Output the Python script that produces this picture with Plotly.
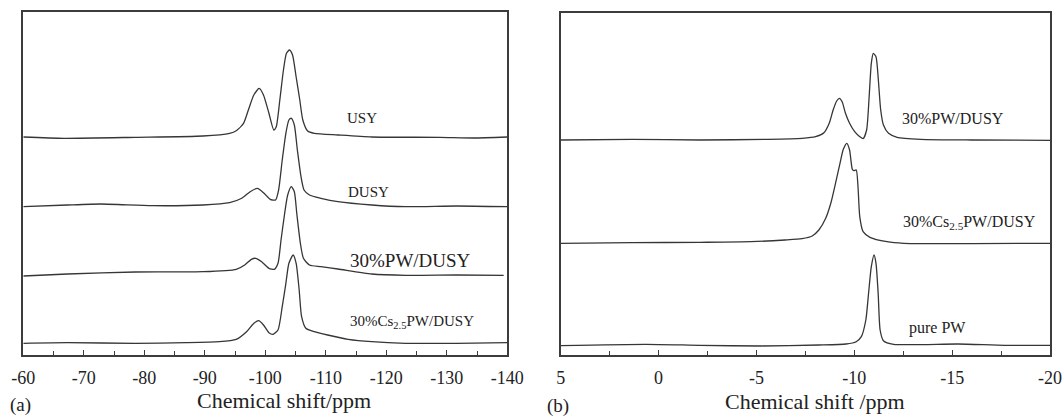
import plotly.graph_objects as go

# ---------------- Panel (a): 29Si MAS NMR ----------------
USY_X = [-60, -66.7, -78.5, -89.7, -94.1, -95.2, -96.4, -97.2, -98.1, -99.0, -99.7, -100.6,
         -101.4, -101.8, -102.4, -103.0, -103.5, -104.0, -104.5, -105.1, -105.7, -106.2,
         -107.0, -108.1, -112.0, -117.6, -128.8, -134.4, -140]
USY_Y = [218, 216.7, 217.7, 219, 221.7, 224.3, 231.7, 245, 260, 266.7, 260, 241.7,
         225, 228, 255, 285, 301.7, 305, 300, 278, 255, 235,
         224, 221.7, 220, 218, 217.7, 217, 218]

DUSY_X = [-60, -67.3, -72.9, -81.3, -89.7, -94.1, -96.1, -97.5, -98.7, -99.7, -100.8,
          -101.7, -102.2, -102.8, -103.4, -103.9, -104.3, -104.8, -105.3, -105.9, -106.4,
          -107.3, -109.2, -112.0, -117.6, -123.2, -131.6, -140]
DUSY_Y = [148.3, 150, 151, 149.3, 150, 152.3, 156.7, 163.3, 166.7, 162.3, 155.7,
          155, 165, 195, 221.7, 235, 236.7, 230, 205, 178.3, 165,
          160, 156.7, 153.3, 150, 148.3, 149, 148.3]

PWA_X = [-60, -67.3, -78.5, -89.7, -95.2, -96.6, -97.7, -98.4, -99.4, -100.6, -101.5,
         -102.1, -102.6, -103.2, -103.7, -104.3, -104.8, -105.2, -105.8, -106.3, -107.3,
         -109.2, -112.0, -117.6, -123.2, -131.6, -139.4]
PWA_Y = [79, 81, 83, 83.3, 85.7, 90, 95.7, 96.7, 93.3, 86.7, 85.7,
         91.7, 115, 141.7, 160, 168.3, 163.3, 141.7, 111.7, 96.7, 90,
         88.3, 86, 81, 79.7, 80, 79.7]

CSA_X = [-60, -67.3, -78.5, -86.9, -92.4, -95.2, -96.9, -98.0, -98.9, -99.7, -100.6,
         -101.3, -102.1, -102.8, -103.4, -103.9, -104.6, -105.1, -105.6, -106.0, -106.7,
         -108.1, -110.3, -113.7, -117.6, -123.2, -131.6, -140]
CSA_Y = [11.7, 12.3, 11.7, 12.3, 13.3, 15.7, 23.3, 31, 34.3, 30, 22.3,
         20.7, 25, 48.3, 71.7, 91.7, 100, 91.7, 65, 38.3, 26.7,
         23.3, 20, 15.7, 13.3, 11.7, 11.7, 12.3]

# ---------------- Panel (b): 31P MAS NMR ----------------
PWB_X = [5, 1.35, -2.12, -5.59, -7.33, -8.02, -8.45, -8.72, -8.92, -9.10, -9.24, -9.38,
         -9.55, -9.76, -10.02, -10.28, -10.45, -10.63, -10.76, -10.87, -10.97, -11.11,
         -11.23, -11.35, -11.49, -11.75, -12.19, -13.4, -16.0, -20]
PWB_Y = [215, 215.7, 215, 215.7, 216.7, 218.3, 222.3, 231.7, 245, 254, 256.7, 253.3,
         241.7, 231.7, 223.3, 218.3, 216.3, 225, 258.3, 291.7, 301.7, 298.3,
         275, 245, 230, 221.7, 217.7, 215.7, 215, 214.7]

CSB_X = [5, 1.35, -2.12, -4.72, -6.46, -7.33, -7.85, -8.19, -8.54, -8.80, -9.06, -9.27,
         -9.44, -9.62, -9.76, -9.90, -9.98, -10.10, -10.19, -10.28, -10.45, -10.80,
         -11.67, -12.53, -16.0, -20]
CSB_Y = [111.7, 112.3, 112.7, 113.3, 115, 116.3, 119, 125, 136.7, 151.7, 173.3, 191.7,
         205.7, 211.7, 205, 185.7, 184.3, 185, 168.3, 138.3, 123.3, 117.7,
         113.3, 111.7, 111.3, 111.7]

PURE_X = [5, 0.66, -2.12, -5.24, -8.19, -9.58, -10.10, -10.36, -10.59, -10.73, -10.87,
          -11.01, -11.11, -11.22, -11.32, -11.49, -12.01, -15.3, -17.7, -20]
PURE_Y = [9.3, 10.7, 9.7, 9, 10, 11, 13.3, 18.3, 35, 61.7, 88.3,
          100, 91.7, 61.7, 25, 14.3, 10.7, 11, 9.7, 9.7]

# ---------------- Tick labels ----------------
TICKS_A = [-60, -70, -80, -90, -100, -110, -120, -130, -140]
TICKTEXT_A = ["-60", "-70", "-80", "-90", "-100", "-110", "-120", "-130", "-140"]
MINOR_A = [-65, -75, -85, -95, -105, -115, -125, -135]
TICKS_B = [5, 0, -5, -10, -15, -20]
TICKTEXT_B = ["5", "0", "-5", "-10", "-15", "-20"]
MINOR_B = [2.5, -2.5, -7.5, -12.5, -17.5]

LABELS_A = ["USY", "DUSY", "30%PW/DUSY", "30%Cs<sub>2.5</sub>PW/DUSY"]
LABELS_A_X = [-113.2, -113.3, -113.7, -113.7]
LABELS_A_Y = [237, 163, 95, 33]
LABELS_A_SIZE = [15, 15, 19, 15]

LABELS_B = ["30%PW/DUSY", "30%Cs<sub>2.5</sub>PW/DUSY", "pure PW"]
LABELS_B_X = [-12.36, -12.4, -12.7]
LABELS_B_Y = [236.7, 133, 26.7]

W, H = 1062, 418
FONT = "Liberation Serif"
LINE = "#363636"
AXC = "#3c3c3c"

fig = go.Figure()
for xs, ys in [(USY_X, USY_Y), (DUSY_X, DUSY_Y), (PWA_X, PWA_Y), (CSA_X, CSA_Y)]:
    fig.add_trace(go.Scatter(x=xs, y=ys, mode="lines", xaxis="x", yaxis="y",
                             line=dict(color=LINE, width=1.3, shape="spline", smoothing=0.6),
                             showlegend=False, hoverinfo="skip"))
for xs, ys in [(PWB_X, PWB_Y), (CSB_X, CSB_Y), (PURE_X, PURE_Y)]:
    fig.add_trace(go.Scatter(x=xs, y=ys, mode="lines", xaxis="x2", yaxis="y2",
                             line=dict(color=LINE, width=1.3, shape="spline", smoothing=0.6),
                             showlegend=False, hoverinfo="skip"))

def xaxis(dom, rng, tv, tt, minor, anchor):
    return dict(domain=dom, range=rng, anchor=anchor, tickmode="array", tickvals=tv,
                ticktext=tt, ticks="inside", ticklen=5, tickwidth=1.2, tickcolor=AXC,
                showline=True, linecolor=AXC, linewidth=1.5, mirror=True, automargin=False,
                showgrid=False, zeroline=False, ticklabelstandoff=6,
                tickfont=dict(family=FONT, size=18, color="#222"),
                minor=dict(tickmode="array", tickvals=minor, ticks="inside", ticklen=4,
                           tickwidth=1.2, tickcolor=AXC, showgrid=False))

def yaxis(dom, rng, anchor):
    return dict(domain=dom, range=rng, anchor=anchor, showticklabels=False, ticks="",
                showline=True, linecolor=AXC, linewidth=1.5, mirror=True, automargin=False,
                showgrid=False, zeroline=False)

yb = 1 - 355 / H
fig.update_layout(
    width=W, height=H, margin=dict(l=0, r=0, t=0, b=0, autoexpand=False),
    paper_bgcolor="white", plot_bgcolor="white",
    xaxis=xaxis([23.3 / W, 507.3 / W], [-60, -140], TICKS_A, TICKTEXT_A, MINOR_A, "y"),
    yaxis=yaxis([yb, 1 - 12 / H], [0, 343], "x"),
    xaxis2=xaxis([560.7 / W, 1050 / W], [5, -20], TICKS_B, TICKTEXT_B, MINOR_B, "y2"),
    yaxis2=yaxis([yb, 1 - 13 / H], [0, 342], "x2"),
)

for t, x, y, s in zip(LABELS_A, LABELS_A_X, LABELS_A_Y, LABELS_A_SIZE):
    fig.add_annotation(text=t, x=x, y=y, xref="x", yref="y", showarrow=False,
                       xanchor="left", yanchor="middle",
                       font=dict(family=FONT, size=s, color="#222"))
for t, x, y in zip(LABELS_B, LABELS_B_X, LABELS_B_Y):
    fig.add_annotation(text=t, x=x, y=y, xref="x2", yref="y2", showarrow=False,
                       xanchor="left", yanchor="middle",
                       font=dict(family=FONT, size=16, color="#222"))

for t, px, py in [("Chemical shift/ppm", 284, 400), ("Chemical shift /ppm", 815, 401)]:
    fig.add_annotation(text=t, x=px / W, y=1 - py / H, xref="paper", yref="paper",
                       showarrow=False, xanchor="center", yanchor="middle",
                       font=dict(family=FONT, size=22, color="#222"))
for t, px, py in [("(a)", 20, 405), ("(b)", 558, 406)]:
    fig.add_annotation(text=t, x=px / W, y=1 - py / H, xref="paper", yref="paper",
                       showarrow=False, xanchor="center", yanchor="middle",
                       font=dict(family=FONT, size=19, color="#222"))

fig.write_html("out.html")
